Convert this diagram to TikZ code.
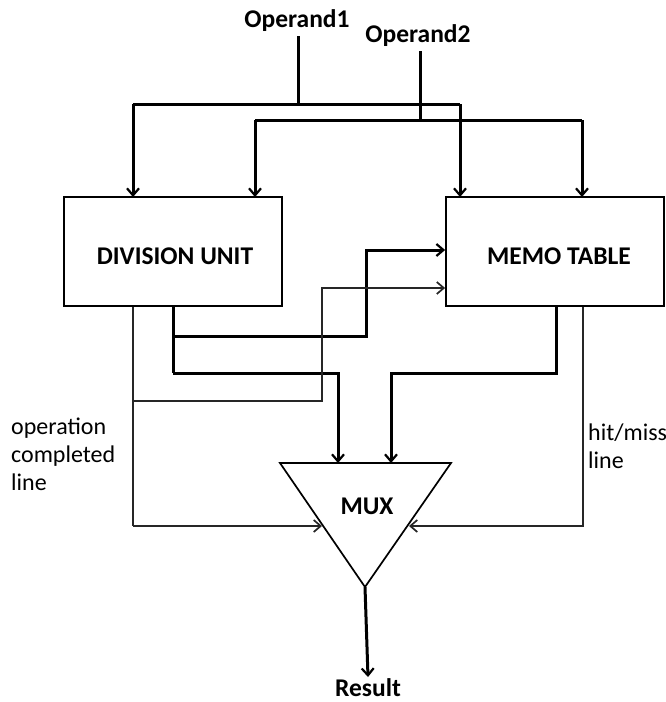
\documentclass[tikz,border=0pt]{standalone}
\usepackage{fontspec}
\setmainfont{Carlito}
\usetikzlibrary{arrows.meta}
\begin{document}
\begin{tikzpicture}[x=1pt,y=-1pt,
  bus/.style={line width=3pt},
  wire/.style={line width=1.5pt, draw=black!85},
  tipbold/.style={-{Straight Barb[length=7pt,width=12pt,line width=2.2pt]}},
  tipthin/.style={-{Straight Barb[length=7pt,width=12pt,line width=1.7pt]}},
  unitbox/.style={draw, line width=1.8pt, inner sep=0pt},
  title/.style={font=\fontsize{25.5}{30}\selectfont\bfseries, inner sep=0pt},
  note/.style={font=\fontsize{24}{28}\selectfont, align=left, inner sep=0pt, anchor=west}
]
\useasboundingbox (0,0) rectangle (666,702);

% operand inputs
\node[title] (op1) at (297,21) {Operand1};
\node[title] (op2) at (418,36) {Operand2};
\coordinate (op1tap) at (298,104);
\coordinate (op2tap) at (420,120);

% functional blocks
\node[unitbox, minimum width=218pt, minimum height=109pt] (div) at (173,251.5) {};
\node[title] at (175,256) {DIVISION UNIT};
\node[unitbox, minimum width=218pt, minimum height=109pt] (memo) at (555,251.5) {};
\node[title] at (559,256) {MEMO TABLE};

% multiplexer
\coordinate (muxL) at (280,463);
\coordinate (muxR) at (451,463);
\coordinate (muxB) at (365,587);
\draw[line width=1.7pt, line join=miter] (muxL) -- (muxR) -- (muxB) -- cycle;
\node[title] (mux) at (367,506) {MUX};
\node[title] (res) at (368,688) {Result};

% operand buses
\draw[bus] (op1.south -| op1tap) ++(0,4) -- (op1tap);
\draw[bus] (op2.south -| op2tap) ++(0,4) -- (op2tap);
\draw[bus] (133,104) -- (460,104);
\draw[bus] (255,120) -- (582,120);
\draw[bus, tipbold] (133,104) -- (133,197);
\draw[bus, tipbold] (460,104) -- (460,197);
\draw[bus, tipbold] (255,120) -- (255,197);
\draw[bus, tipbold] (582,120) -- (582,197);

% division unit result paths
\draw[bus] (div.south -| 173,0) -- (173,373);
\draw[bus, tipbold] (173,336) -- (366,336) -- (366,250) -- (memo.west |- 0,250);
\draw[bus, tipbold] (173,373) -- (338,373) -- (338,463);

% operation completed line
\draw[wire] (div.south -| 133,0) -- (133,526);
\draw[wire, tipthin] (133,526) -- (322,526);
\draw[wire, tipthin] (133,401) -- (322,401) -- (322,288) -- (memo.west |- 0,288);

% memo table result path
\draw[bus, tipbold] (memo.south -| 556,0) -- (556,373) -- (391,373) -- (391,463);

% hit/miss line
\draw[wire, tipthin] (memo.south -| 583,0) -- (583,526) -- (409,526);

% output
\draw[bus, tipbold] (muxB) -- (368,677);

% side labels
\node[note] (oplbl) at (11,454) {operation\\completed\\line};
\node[note] (hmlbl) at (588,446) {hit/miss\\line};
\end{tikzpicture}
\end{document}
